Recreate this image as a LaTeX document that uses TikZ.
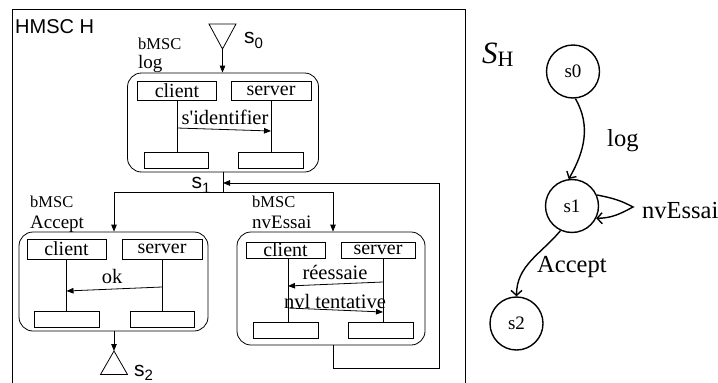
\documentclass[tikz,border=0pt]{standalone}
\usepackage{fontspec}
\setmainfont{Liberation Serif}
\newfontfamily\ser{Liberation Serif}
\newfontfamily\sans{Liberation Sans}
\usetikzlibrary{arrows.meta}
\begin{document}
\begin{tikzpicture}[x=1pt,y=-1pt,
  lbl/.style={font=\ser\fontsize{20.5}{20.5}\selectfont, inner sep=0pt, anchor=base},
  small/.style={font=\ser\fontsize{16.5}{16.5}\selectfont, inner sep=0pt, anchor=base west},
  bname/.style={font=\ser\fontsize{19}{19}\selectfont, inner sep=0pt, anchor=base west},
  inst/.style={draw, line width=0.8pt, inner sep=0pt, font=\ser\fontsize{20}{20}\selectfont},
  endbox/.style={draw, line width=0.8pt, inner sep=0pt, minimum width=65pt, minimum height=16pt},
  bmscbox/.style={draw, line width=0.8pt, rounded corners=14pt, inner sep=0pt},
  msg/.style={line width=0.8pt, -{Triangle[length=7pt,width=5.5pt]}},
  flow/.style={line width=0.8pt},
  sanslbl/.style={font=\sans\fontsize{21}{21}\selectfont, inner sep=0pt, anchor=base west},
  state/.style={circle, draw, line width=1.4pt, minimum size=53pt, inner sep=0pt, font=\ser\fontsize{19}{19}\selectfont},
  tr/.style={line width=1.4pt, -{Straight Barb[length=5pt,width=11pt,line width=1.4pt]}},
  edgelbl/.style={font=\ser\fontsize{24.5}{24.5}\selectfont, inner sep=0pt, anchor=base west}
]
\useasboundingbox (0,0) rectangle (718,383);

% frame
\draw[flow] (12,384) -- (12,9) -- (465,9) -- (465,384);
\node[font=\sans\fontsize{20}{20}\selectfont, anchor=base west, inner sep=0pt] (title) at (15,33) {HMSC H};

% start triangle s0
\draw[flow] (209,24) -- (236,24) -- (222.5,49) -- cycle;
\coordinate (t0) at (222.5,49);
\node[sanslbl] (s0lbl) at (244,43) {s\raisebox{-5pt}{\fontsize{15}{15}\selectfont 0}};

% bMSC log
\node[small] (loglbl1) at (138,49) {bMSC};
\node[bname] (loglbl2) at (138,68) {log};
\node[bmscbox, minimum width=191pt, minimum height=99pt] (logbox) at (223,122.5) {};
\node[inst, minimum width=79pt, minimum height=19pt] (lc) at (177,90.5) {client};
\node[inst, minimum width=80pt, minimum height=19pt] (ls) at (271,90.5) {server};
\node[endbox, minimum width=64pt] (lce) at (176,160.5) {};
\node[endbox] (lse) at (270.5,160.5) {};
\draw[flow] (lc.south) -- (lc.south |- lce.north);
\draw[flow] (ls.south) -- (ls.south |- lse.north);
\coordinate (m1a) at (177,128);
\coordinate (m1b) at (271,131);
\draw[msg] (m1a) -- (m1b);
\node[lbl] (m1l) at (225,124.5) {s'identifier};
\draw[msg] (t0) -- (t0 |- logbox.north);

% s1 junction
\coordinate (j1) at (223,192);
\coordinate (jl) at (114,192);
\coordinate (jr) at (333,192);
\draw[flow] (logbox.south -| j1) -- (j1);
\draw[flow] (jl) -- (jr);
\node[sanslbl] (s1lbl) at (191.5,188) {s\raisebox{-5pt}{\fontsize{15}{15}\selectfont 1}};

% bMSC Accept
\node[small] (acclbl1) at (30,207) {bMSC};
\node[bname] (acclbl2) at (30,228) {Accept};
\node[bmscbox, minimum width=189pt, minimum height=99pt] (accbox) at (113.5,281.5) {};
\node[inst, minimum width=79pt, minimum height=20pt] (ac) at (66.5,249) {client};
\node[inst, minimum width=80pt, minimum height=20pt] (as) at (162,249) {server};
\node[endbox] (ace) at (66.5,319) {};
\node[endbox, minimum width=64pt] (ase) at (162,319) {};
\draw[flow] (ac.south) -- (ac.south |- ace.north);
\draw[flow] (as.south) -- (as.south |- ase.north);
\coordinate (m2a) at (162,287);
\coordinate (m2b) at (66.5,291);
\draw[msg] (m2a) -- (m2b);
\node[lbl] (m2l) at (112,283) {ok};
\draw[msg] (jl) -- (jl |- accbox.north);

% end triangle s2
\coordinate (t2) at (114,351);
\draw[msg] (accbox.south -| t2) -- (t2);
\draw[flow] (t2) -- (100.5,374.5) -- (127.5,374.5) -- cycle;
\node[sanslbl] (s2lbl) at (134,376) {s\raisebox{-4pt}{\fontsize{15}{15}\selectfont 2}};

% bMSC nvEssai
\node[small] (nvlbl1) at (252,207) {bMSC};
\node[bname] (nvlbl2) at (252,228) {nvEssai};
\node[bmscbox, minimum width=188pt, minimum height=113pt] (nvbox) at (331,288.5) {};
\node[inst, minimum width=79pt, minimum height=16pt] (nc) at (285.5,250) {client};
\node[inst, minimum width=74pt, minimum height=16pt] (ns) at (378,250) {server};
\node[endbox] (nce) at (285.5,330.5) {};
\node[endbox] (nse) at (380.5,330.5) {};
\coordinate (m3a) at (383,282);
\coordinate (m3b) at (288,286);
\coordinate (m4a) at (288,308);
\coordinate (m4b) at (383,312);
\draw[flow] (m3b |- nc.south) -- (m3b |- nce.north);
\draw[flow] (m3a |- ns.south) -- (m3a |- nse.north);
\draw[msg] (m3a) -- (m3b);
\draw[msg] (m4a) -- (m4b);
\node[lbl] (m3l) at (335,279) {réessaie};
\node[lbl] (m4l) at (335,308) {nvl tentative};
\draw[msg] (jr) -- (jr |- nvbox.north);

% loop back to s1
\coordinate (lp1) at (333,368);
\coordinate (lp2) at (439,368);
\coordinate (lp3) at (439,183);
\coordinate (lp4) at (223,183);
\draw[msg] (nvbox.south -| lp1) -- (lp1) -- (lp2) -- (lp3) -- (lp4);

% automaton S_H
\node[font=\ser, inner sep=0pt, anchor=base west] (SH) at (482,63)
  {\fontsize{31}{31}\selectfont\itshape S\upshape\fontsize{22}{22}\selectfont\raisebox{-3pt}{H}};
\node[state] (q0) at (573,71.5) {s0};
\node[state] (q1) at (572,206) {s1};
\node[state] (q2) at (516.5,323.5) {s2};
\draw[tr] (q0.-85) to[out=-60,in=60] (q1.97);
\node[edgelbl] (loglbl) at (607,146) {log};
\draw[tr] (q1.24) .. controls (612,198) and (620,200) .. (633,207)
                 .. controls (620,214) and (612,218) .. (q1.-27);
\node[edgelbl] (nvlbl) at (642,218) {nvEssai};
\draw[tr] (q1.-115) to[out=-130,in=90] (q2.north);
\node[edgelbl] (acclbl) at (537,272) {Accept};
\end{tikzpicture}
\end{document}
